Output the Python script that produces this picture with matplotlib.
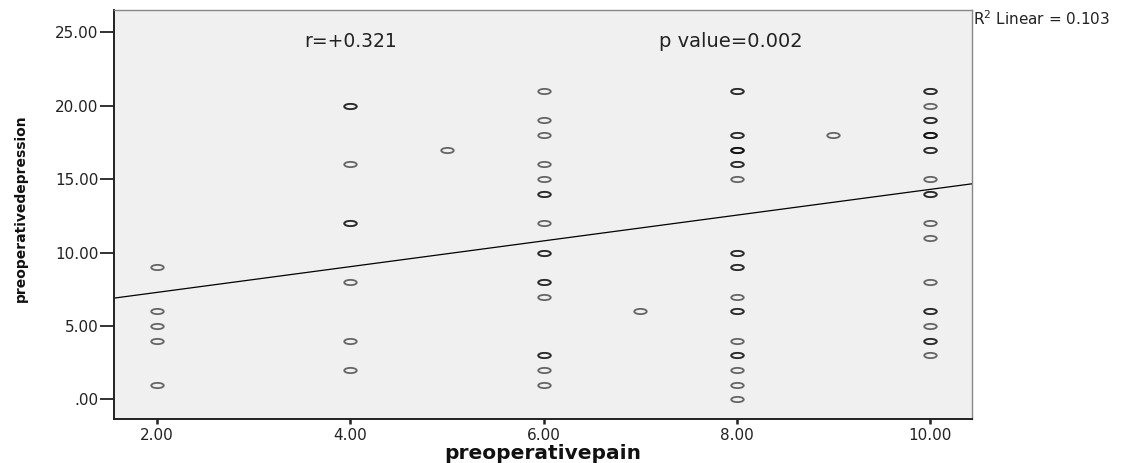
import numpy as np
import matplotlib
matplotlib.use("Agg")
import matplotlib.pyplot as plt
from matplotlib.path import Path
from matplotlib.transforms import Affine2D

# pain score, depression score, number of cases at that spot
pain = [2, 2, 2, 2, 2,
        4, 4, 4, 4, 4, 4,
        5,
        6, 6, 6, 6, 6, 6, 6, 6, 6, 6, 6, 6, 6,
        7,
        8, 8, 8, 8, 8, 8, 8, 8, 8, 8, 8, 8, 8, 8,
        9,
        10, 10, 10, 10, 10, 10, 10, 10, 10, 10, 10, 10, 10, 10]
depression = [9, 6, 5, 4, 1,
              20, 16, 12, 8, 4, 2,
              17,
              21, 19, 18, 16, 15, 14, 12, 10, 8, 7, 3, 2, 1,
              6,
              21, 18, 17, 16, 15, 10, 9, 7, 6, 4, 3, 2, 1, 0,
              18,
              21, 20, 19, 18, 17, 15, 14, 12, 11, 8, 6, 5, 4, 3]
cases = [1, 1, 1, 1, 1,
         2, 1, 2, 1, 1, 1,
         1,
         1, 1, 1, 1, 1, 2, 1, 2, 2, 1, 2, 1, 1,
         1,
         2, 2, 3, 2, 1, 2, 2, 1, 2, 1, 2, 1, 1, 1,
         1,
         2, 1, 2, 3, 2, 1, 2, 1, 1, 1, 2, 1, 2, 1]

# fit line as shown in the chart
fit_intercept = 5.53
fit_slope = 0.877
r_text = "r=+0.321"
p_text = "p value=0.002"
r2_text = "R$^2$ Linear = 0.103"

x_ticks = [2, 4, 6, 8, 10]
y_ticks = [0, 5, 10, 15, 20, 25]

def spss_fmt(v):
    s = "%.2f" % v
    return s[1:] if s.startswith("0") else s

# expand the counts into single cases
xs = np.repeat(pain, cases)
ys = np.repeat(depression, cases)

fig = plt.figure(figsize=(11.32, 4.63), dpi=100)
ax = fig.add_axes([0.1007, 0.0944, 0.758, 0.884])
ax.set_facecolor("#f0f0f0")

# flat ring marker (picture is stretched sideways)
ring = Path.unit_circle().transformed(Affine2D().scale(1.0, 0.42))
ax.plot(xs, ys, linestyle="none", marker=ring, markersize=9,
        markerfacecolor="none", markeredgecolor=(0, 0, 0, 0.58),
        markeredgewidth=1.3)

xlo, xhi = 1.555, 10.435
ax.set_xlim(xlo, xhi)
ax.set_ylim(-1.36, 26.52)
xl = np.array([xlo, xhi])
ax.plot(xl, fit_intercept + fit_slope * xl, color="black", lw=0.9)

ax.set_xticks(x_ticks)
ax.set_xticklabels([spss_fmt(v) for v in x_ticks])
ax.set_yticks(y_ticks)
ax.set_yticklabels([spss_fmt(v) for v in y_ticks])
ax.tick_params(axis="y", direction="out", length=10, width=1.3,
               color="#222222", pad=1, labelsize=11, labelcolor="#222222")
ax.tick_params(axis="x", direction="out", length=3.5, width=1.8,
               color="#222222", pad=3, labelsize=11, labelcolor="#222222")

for side in ["left", "bottom"]:
    ax.spines[side].set_color("#222222")
    ax.spines[side].set_linewidth(1.4)
for side in ["top", "right"]:
    ax.spines[side].set_color("#888888")
    ax.spines[side].set_linewidth(1.0)

ax.set_xlabel("preoperativepain", fontsize=14.5, fontweight="bold",
              color="#111111")
ax.xaxis.set_label_coords(0.5, -0.083)
ax.xaxis.label.set_va("center")
ax.set_ylabel("preoperativedepression", fontsize=10, fontweight="bold",
              color="#111111")
ax.yaxis.set_label_coords(-0.108, 0.515)
ax.yaxis.label.set_va("center")

ax.text(4.0, 24.4, r_text, ha="center", va="center", fontsize=13.5,
        color="#222222")
ax.text(7.94, 24.4, p_text, ha="center", va="center", fontsize=14,
        color="#222222")
fig.text(0.8595, 0.959, r2_text, ha="left", va="center", fontsize=11,
         color="#222222")

fig.savefig("out.png", dpi=100, facecolor="white")
